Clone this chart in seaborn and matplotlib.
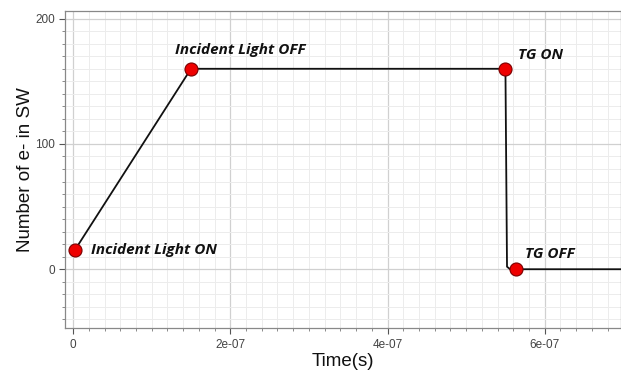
import matplotlib
matplotlib.use("Agg")
import matplotlib.pyplot as plt
from matplotlib.ticker import MultipleLocator
import numpy as np
import pandas as pd
import seaborn as sns

# Trace of electrons collected in the storage well over time
trace_time = [2e-9, 1.5e-7, 5.5e-7, 5.52e-7, 5.56e-7, 7.2e-7]
trace_electrons = [15, 160, 160, 2, 0, 0]

# Event markers
event_labels = ["Incident Light ON", "Incident Light OFF", "TG ON", "TG OFF"]
event_time = [2e-9, 1.5e-7, 5.5e-7, 5.63e-7]
event_electrons = [15, 160, 160, 0]

x_ticks = [0, 2e-7, 4e-7, 6e-7]
x_tick_labels = ["0", "2e-07", "4e-07", "6e-07"]
y_ticks = [0, 100, 200]

trace = pd.DataFrame({"time": trace_time, "electrons": trace_electrons})
events = pd.DataFrame({"label": event_labels, "time": event_time,
                       "electrons": event_electrons})

sns.set_style("white")
plt.rcParams["font.family"] = ["Liberation Sans", "DejaVu Sans"]

fig = plt.figure(figsize=(6.21, 3.72), dpi=100)
ax = fig.add_axes([0.105, 0.118, 0.895, 0.852])

sns.lineplot(data=trace, x="time", y="electrons", ax=ax, color="#111111",
             linewidth=1.3, sort=False, estimator=None, zorder=3)
sns.scatterplot(data=events, x="time", y="electrons", ax=ax, color="#ee0000",
                edgecolor="#7a0000", linewidth=0.8, s=88, zorder=4)

ax.set_xlim(-1e-8, 6.97e-7)
ax.set_ylim(-47, 206)
ax.set_xticks(x_ticks)
ax.set_xticklabels(x_tick_labels)
ax.set_yticks(y_ticks)
ax.xaxis.set_minor_locator(MultipleLocator(2e-8))
ax.yaxis.set_minor_locator(MultipleLocator(10))

ax.grid(which="major", color="#d0d0d0", linewidth=0.9)
ax.grid(which="minor", color="#ececec", linewidth=0.7)
ax.set_axisbelow(True)

ax.tick_params(which="major", direction="out", length=4, width=0.8,
               color="#555555", labelsize=8.5, labelcolor="#444444",
               left=True, bottom=True)
ax.tick_params(which="minor", direction="out", length=2.5, width=0.6,
               color="#777777", left=True, bottom=True)
for side in ["left", "bottom", "top", "right"]:
    ax.spines[side].set_color("#888888")
    ax.spines[side].set_linewidth(0.9)

ax.set_xlabel("Time(s)", fontsize=13.5, color="#111111", labelpad=2)
ax.set_ylabel("Number of e- in SW", fontsize=13.5, color="#111111", labelpad=1)

# Event annotations
label_pos = {
    "Incident Light ON": (2.33e-8, 15),
    "Incident Light OFF": (1.30e-7, 175),
    "TG ON": (5.66e-7, 171),
    "TG OFF": (5.75e-7, 12),
}
for name in event_labels:
    tx, ty = label_pos[name]
    ax.text(tx, ty, name, fontsize=11, fontweight="bold", fontstyle="italic",
            family=["Open Sans", "DejaVu Sans"], color="#111111",
            ha="left", va="center", zorder=5)

fig.savefig("out.png", dpi=100)
